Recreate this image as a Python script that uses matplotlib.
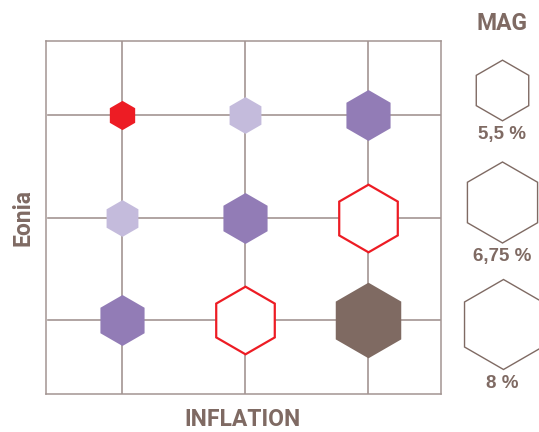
import numpy as np
import matplotlib.pyplot as plt

# scenario grid: inflation (x) vs eonia (y), hexagon size = MAG
inflation_pos = [1, 2, 3]
eonia_pos = [3, 2, 1]          # rows, top to bottom

mag = [[3.58, 4.04, 4.91],
       [4.04, 4.91, 5.93],
       [4.91, 5.93, 6.42]]

kind = [['red', 'light', 'purple'],
        ['light', 'purple', 'outline'],
        ['purple', 'outline', 'brown']]

legend_mag = [5.5, 6.75, 8.0]
legend_labels = ['5,5 %', '6,75 %', '8 %']

TXT = '#7F6A63'
GRID = '#A39592'
RED = '#ED1C24'
styles = {
    'red': dict(markerfacecolor=RED, markeredgecolor=RED, markeredgewidth=0),
    'light': dict(markerfacecolor='#C4BBDC', markeredgecolor='#C4BBDC', markeredgewidth=0),
    'purple': dict(markerfacecolor='#927CB6', markeredgecolor='#927CB6', markeredgewidth=0),
    'outline': dict(markerfacecolor='white', markeredgecolor=RED, markeredgewidth=1.6),
    'brown': dict(markerfacecolor='#7F6A62', markeredgecolor='#7F6A62', markeredgewidth=0),
}

# hexagon radius (px) for the legend steps
legend_r = [30.3, 40.5, 45.0]


def hex_size(m):
    # MAG -> radius in px (linear below the first step), then to points
    if m < legend_mag[0]:
        r = legend_r[0] - (legend_mag[0] - m) * (legend_r[1] - legend_r[0]) / (legend_mag[1] - legend_mag[0])
    else:
        r = np.interp(m, legend_mag, legend_r)
    return 2 * r * 72 / 100


fig = plt.figure(figsize=(5.39, 4.32), dpi=100)
W, H = 539, 432
ax = fig.add_axes([46 / W, (H - 394) / H, 395 / W, 353 / H])
ax.set_xlim(0.382, 3.593)
ax.set_ylim(0.284, 3.72)

for x in inflation_pos:
    ax.axvline(x, color=GRID, lw=1.2, zorder=1)
for y in eonia_pos:
    ax.axhline(y, xmin=0.006, color=GRID, lw=1.2, zorder=1)

for i, y in enumerate(eonia_pos):
    for j, x in enumerate(inflation_pos):
        ax.plot(x, y, marker='h', markersize=hex_size(mag[i][j]),
                linestyle='none', zorder=3, **styles[kind[i][j]])

ax.set_xticks([])
ax.set_yticks([])
for s in ax.spines.values():
    s.set_color(GRID)
    s.set_linewidth(1.1)

narrow = ['Roboto', 'DejaVu Sans']
fig.text(243 / W, 1 - 420 / H, 'INFLATION', ha='center', va='center',
         fontsize=16.5, fontweight='bold', color=TXT, family=narrow)
fig.text(23 / W, 1 - 218 / H, 'Eonia', ha='center', va='center', rotation=90,
         fontsize=16.5, fontweight='bold', color=TXT, family=narrow)
fig.text(502 / W, 1 - 24 / H, 'MAG', ha='center', va='center',
         fontsize=16.5, fontweight='bold', color=TXT, family=narrow)

# size legend on an overlay in pixel coordinates
lg = fig.add_axes([0, 0, 1, 1])
lg.set_xlim(0, W)
lg.set_ylim(H, 0)
lg.axis('off')
leg_x = [502, 502, 503]
leg_y = [90, 202, 324]
lab_y = [135, 257, 383]
for m, lab, lx, ly, ty in zip(legend_mag, legend_labels, leg_x, leg_y, lab_y):
    lg.plot(lx, ly, marker='h', markersize=hex_size(m), linestyle='none',
            markerfacecolor='white', markeredgecolor=TXT, markeredgewidth=1.0,
            clip_on=False)
    lg.text(502, ty, lab, ha='center', va='center', fontsize=13.5,
            fontweight='bold', color=TXT, family=['Liberation Sans', 'DejaVu Sans'])

fig.savefig('out.png', dpi=100, facecolor='white')
